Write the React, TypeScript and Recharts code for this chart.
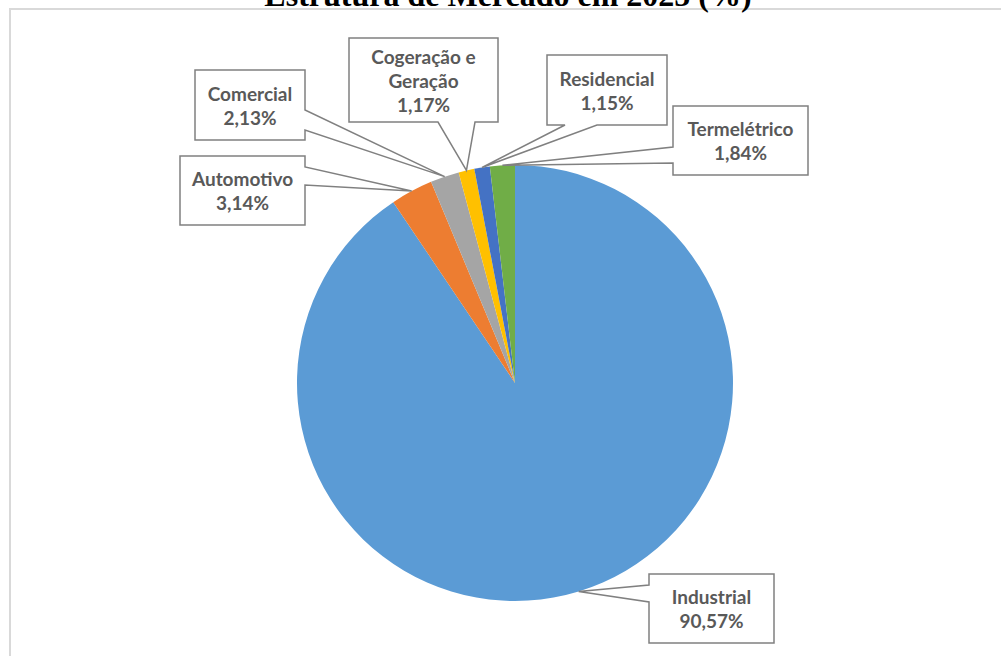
import { PieChart, Pie, Cell } from 'recharts';

const categories = ['Industrial', 'Automotivo', 'Comercial', 'Cogeração e Geração', 'Residencial', 'Termelétrico'];
const shares = [90.57, 3.14, 2.13, 1.17, 1.15, 1.84];
const COLORS = ['#5B9BD5', '#ED7D31', '#A5A5A5', '#FFC000', '#4472C4', '#70AD47'];

const data = categories.map((name, i) => ({ name, value: shares[i] }));

// callout boxes: rect + which side the wedge leaves from (a..b along that side)
const LABEL_BOXES: Record<string, { x: number; y: number; w: number; h: number; side: string; a: number; b: number }> = {
    'Industrial': { x: 649, y: 574, w: 125, h: 69, side: 'left', a: 585, b: 602 },
    'Automotivo': { x: 180, y: 156, w: 125, h: 69, side: 'right', a: 167, b: 185 },
    'Comercial': { x: 195, y: 70, w: 110, h: 70, side: 'right', a: 110, b: 130 },
    'Cogeração e Geração': { x: 349, y: 38, w: 149, h: 84, side: 'bottom', a: 438, b: 475 },
    'Residencial': { x: 547, y: 55, w: 120, h: 70, side: 'bottom', a: 565, b: 597 },
    'Termelétrico': { x: 673, y: 106, w: 135, h: 69, side: 'left', a: 147, b: 163 },
};

const RADIAN = Math.PI / 180;
const fmt = (v: number) => v.toFixed(2).replace('.', ',') + '%';

const renderLabel = (props: any) => {
    const { cx, cy, midAngle, outerRadius, name, value } = props;
    const box = LABEL_BOXES[name];
    if (!box) return null;
    const tx = cx + outerRadius * Math.cos(-midAngle * RADIAN);
    const ty = cy + outerRadius * Math.sin(-midAngle * RADIAN);
    const { x, y, w, h, side, a, b } = box;
    let d = '';
    if (side === 'right') {
        d = `M${x},${y} H${x + w} V${a} L${tx},${ty} L${x + w},${b} V${y + h} H${x} Z`;
    } else if (side === 'left') {
        d = `M${x},${y} H${x + w} V${y + h} H${x} V${b} L${tx},${ty} L${x},${a} Z`;
    } else {
        d = `M${x},${y} H${x + w} V${y + h} H${b} L${tx},${ty} L${a},${y + h} H${x} Z`;
    }
    const lines = [...name.replace(' e ', ' e\n').split('\n'), fmt(value)];
    const mid = y + h / 2;
    const step = 24;
    const top = mid - ((lines.length - 1) * step) / 2;
    return (
        <g key={name}>
            <path d={d} fill="#ffffff" stroke="#808080" strokeWidth={1.5} />
            {lines.map((t, i) => (
                <text
                    key={i}
                    x={x + w / 2}
                    y={top + i * step}
                    textAnchor="middle"
                    dominantBaseline="central"
                    fill="#595959"
                    fontSize={19}
                    fontWeight={700}
                    fontFamily="Lato, 'Open Sans', sans-serif"
                >
                    {t}
                </text>
            ))}
        </g>
    );
};

export default function App() {
    return (
        <div style={{ position: 'absolute', left: 0, top: 0, width: 1001, height: 656, overflow: 'hidden', background: '#ffffff' }}>
            <div style={{ position: 'absolute', left: 9, top: 8, width: 1100, height: 800, border: '2px solid #d9d9d9' }} />
            <svg width={1001} height={30} style={{ position: 'absolute', left: 0, top: 0 }}>
                <text
                    x={508}
                    y={5.5}
                    textAnchor="middle"
                    fontFamily="'Liberation Serif', 'Times New Roman', serif"
                    fontWeight={700}
                    fontSize={32}
                    fill="#000000"
                >
                    Estrutura de Mercado em 2025 (%)
                </text>
            </svg>
            <div style={{ position: 'absolute', left: 0, top: 0 }}>
                <PieChart width={1001} height={656} margin={{ top: 0, right: 0, bottom: 0, left: 0 }}>
                    <Pie
                        data={data}
                        dataKey="value"
                        nameKey="name"
                        cx={515}
                        cy={383}
                        outerRadius={218}
                        startAngle={90}
                        endAngle={-270}
                        stroke="none"
                        label={renderLabel}
                        labelLine={false}
                        isAnimationActive={false}
                    >
                        {data.map((_, i) => (
                            <Cell key={i} fill={COLORS[i % COLORS.length]} />
                        ))}
                    </Pie>
                </PieChart>
            </div>
        </div>
    );
}
